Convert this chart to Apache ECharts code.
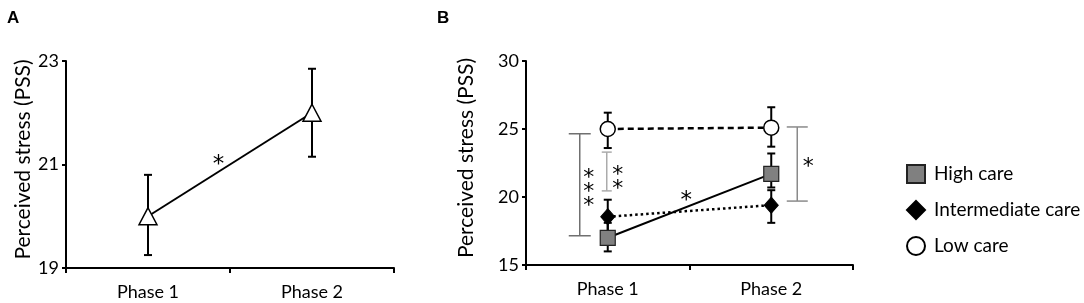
<!DOCTYPE html>
<html>
<head>
<meta charset="utf-8">
<script src="https://cdn.jsdelivr.net/npm/echarts@6/dist/echarts.min.js"></script>
<style>
  html, body { margin: 0; padding: 0; background: #fff; }
  #chart { width: 1084px; height: 303px; }
</style>
</head>
<body>
<div id="chart"></div>
<script>
// Panel A - whole sample, mean with error bar ends
var phases = ['Phase 1', 'Phase 2'];
var meanA = [20.0, 22.0];
var lowA = [19.25, 21.15];
var highA = [20.8, 22.85];

// Panel B - by care group
var groupNames = ['High care', 'Intermediate care', 'Low care'];
var meanHigh = [17.0, 21.7];
var lowHigh = [16.0, 20.7];
var highHigh = [18.1, 23.2];
var meanInter = [18.55, 19.4];
var lowInter = [17.4, 18.1];
var highInter = [19.8, 20.5];
var meanLow = [25.0, 25.1];
var lowLow = [23.6, 23.7];
var highLow = [26.2, 26.6];

// tick values
var ticksA = [19, 21, 23];
var ticksB = [15, 20, 25, 30];

// significance brackets in panel B
var bracketPhase = [0, 0, 1];
var bracketFrom = [17.15, 20.45, 19.7];
var bracketTo = [24.65, 23.3, 25.15];
var bracketStars = ['***', '**', '*'];

// stars over the change lines: fraction of the way from phase 1 to phase 2, value
var changeAt = [0.43, 0.48];
var changeValue = [21.1, 20.15];

var FONT = 'Lato, "Open Sans", sans-serif';
var STAR_FONT = '"DejaVu Sans", sans-serif';

function zip3(a, b, c) {
    return a.map(function (v, i) { return [i, b[i], c[i]]; });
}

// error bar: vertical line with caps
function renderErr(params, api) {
    var lo = api.coord([api.value(0), api.value(1)]);
    var hi = api.coord([api.value(0), api.value(2)]);
    var w = 4;
    var st = { stroke: '#000', lineWidth: 2 };
    return {
        type: 'group',
        children: [
            { type: 'line', shape: { x1: lo[0], y1: lo[1], x2: hi[0], y2: hi[1] }, style: st },
            { type: 'line', shape: { x1: lo[0] - w, y1: lo[1], x2: lo[0] + w, y2: lo[1] }, style: st },
            { type: 'line', shape: { x1: hi[0] - w, y1: hi[1], x2: hi[0] + w, y2: hi[1] }, style: st }
        ]
    };
}

// bracket look: offset from phase centre, cap half width, colour, star offset
var bracketDx = [-28, -1, 26];
var bracketCap = [11, 5, 10.5];
var bracketColor = ['#707070', '#ababab', '#8a8a8a'];
var starDx = [9, 11, 11];
var starDy = [2, 5, -3];

function renderBracket(params, api) {
    var i = params.dataIndex;
    var x = api.coord([api.value(0), 0])[0] + bracketDx[i];
    var y1 = api.coord([api.value(0), api.value(1)])[1];
    var y2 = api.coord([api.value(0), api.value(2)])[1];
    var c = bracketCap[i];
    var st = { stroke: bracketColor[i], lineWidth: 1.5 };
    var stars = bracketStars[i].split('').join('\n');
    return {
        type: 'group',
        children: [
            { type: 'line', shape: { x1: x, y1: y1, x2: x, y2: y2 }, style: st },
            { type: 'line', shape: { x1: x - c, y1: y1, x2: x + c, y2: y1 }, style: st },
            { type: 'line', shape: { x1: x - c, y1: y2, x2: x + c, y2: y2 }, style: st },
            {
                type: 'text',
                x: x + starDx[i],
                y: (y1 + y2) / 2 + starDy[i] + 6,
                style: {
                    text: stars, fontSize: 22, fontFamily: STAR_FONT, fill: '#000',
                    align: 'center', verticalAlign: 'middle', lineHeight: 14
                }
            }
        ]
    };
}

function renderChangeStar(params, api) {
    var t = api.value(0);
    var p0 = api.coord([0, api.value(1)]);
    var p1 = api.coord([1, api.value(1)]);
    return {
        type: 'text',
        x: p0[0] + (p1[0] - p0[0]) * t,
        y: p0[1] + 6,
        style: {
            text: '*', fontSize: 23, fontFamily: STAR_FONT, fill: '#000',
            align: 'center', verticalAlign: 'middle'
        }
    };
}

function xAxisFor(gi) {
    return {
        type: 'category', gridIndex: gi, data: phases, boundaryGap: true,
        axisLine: { show: true, lineStyle: { color: '#000', width: 2 } },
        axisTick: { show: true, length: 5, lineStyle: { color: '#000', width: 2 } },
        axisLabel: { color: '#000', fontSize: 18, fontFamily: FONT, margin: 15 },
        splitLine: { show: false }
    };
}

function yAxisFor(gi, ticks, gap) {
    return {
        type: 'value', gridIndex: gi,
        min: ticks[0], max: ticks[ticks.length - 1], interval: ticks[1] - ticks[0],
        name: 'Perceived stress (PSS)', nameLocation: 'middle', nameGap: gap,
        nameTextStyle: { color: '#000', fontSize: 21, fontFamily: FONT, padding: [0, 0, 0, 10] },
        axisLine: { show: true, lineStyle: { color: '#000', width: 2 } },
        axisTick: { show: true, length: 4, lineStyle: { color: '#000', width: 2 } },
        axisLabel: { color: '#000', fontSize: 18, fontFamily: FONT, margin: 7 },
        splitLine: { show: false }
    };
}

var chart = echarts.init(document.getElementById('chart'), null, { renderer: 'canvas' });

var option = {
    animation: false,
    backgroundColor: '#fff',
    textStyle: { fontFamily: FONT },
    grid: [
        { left: 66, top: 61, width: 328, height: 207 },
        { left: 526, top: 61, width: 327, height: 204 }
    ],
    xAxis: [xAxisFor(0), xAxisFor(1)],
    yAxis: [yAxisFor(0, ticksA, 31), yAxisFor(1, ticksB, 49)],
    legend: {
        orient: 'vertical', left: 901, top: 159,
        itemWidth: 18, itemHeight: 18, itemGap: 16,
        selectedMode: false,
        textStyle: { color: '#000', fontSize: 19, lineHeight: 18, fontFamily: FONT, padding: [0, 0, 0, 4] },
        data: [
            { name: 'High care', icon: 'rect' },
            { name: 'Intermediate care', icon: 'diamond' },
            { name: 'Low care', icon: 'circle' }
        ]
    },
    graphic: [
        { type: 'text', left: 7, top: 10, style: { text: 'A', fontSize: 17, fontWeight: 'bold', fontFamily: 'Liberation Sans, Arial, sans-serif', fill: '#000' } },
        { type: 'text', left: 437, top: 10, style: { text: 'B', fontSize: 17, fontWeight: 'bold', fontFamily: 'Liberation Sans, Arial, sans-serif', fill: '#000' } }
    ],
    series: [
        // panel A
        { type: 'custom', name: 'errA', xAxisIndex: 0, yAxisIndex: 0, z: 1, silent: true,
          renderItem: renderErr, data: zip3(phases, lowA, highA) },
        { type: 'line', name: 'All', xAxisIndex: 0, yAxisIndex: 0, z: 3, silent: true,
          data: meanA, symbol: 'triangle', symbolSize: [18, 17],
          lineStyle: { color: '#000', width: 2 },
          itemStyle: { color: '#fff', borderColor: '#000', borderWidth: 1.5 } },
        { type: 'custom', name: 'starA', xAxisIndex: 0, yAxisIndex: 0, z: 4, silent: true,
          renderItem: renderChangeStar, data: [[changeAt[0], changeValue[0]]] },

        // panel B error bars
        { type: 'custom', name: 'errLow', xAxisIndex: 1, yAxisIndex: 1, z: 1, silent: true,
          renderItem: renderErr, data: zip3(phases, lowLow, highLow) },
        { type: 'custom', name: 'errHigh', xAxisIndex: 1, yAxisIndex: 1, z: 1, silent: true,
          renderItem: renderErr, data: zip3(phases, lowHigh, highHigh) },
        { type: 'custom', name: 'errInter', xAxisIndex: 1, yAxisIndex: 1, z: 1, silent: true,
          renderItem: renderErr, data: zip3(phases, lowInter, highInter) },

        // panel B means
        { type: 'line', name: groupNames[2], xAxisIndex: 1, yAxisIndex: 1, z: 3, silent: true,
          data: meanLow, symbol: 'circle', symbolSize: 15,
          lineStyle: { color: '#000', width: 2.5, type: [6, 4] },
          itemStyle: { color: '#fff', borderColor: '#000', borderWidth: 1.5 } },
        { type: 'line', name: groupNames[1], xAxisIndex: 1, yAxisIndex: 1, z: 3, silent: true,
          data: meanInter, symbol: 'diamond', symbolSize: [14, 16],
          lineStyle: { color: '#000', width: 2.5, type: [2.5, 3] },
          itemStyle: { color: '#000', borderColor: '#000', borderWidth: 1 } },
        { type: 'line', name: groupNames[0], xAxisIndex: 1, yAxisIndex: 1, z: 4, silent: true,
          data: meanHigh, symbol: 'rect', symbolSize: 15,
          lineStyle: { color: '#000', width: 2 },
          itemStyle: { color: '#808080', borderColor: '#222', borderWidth: 1.2 } },

        // significance brackets and stars
        { type: 'custom', name: 'brackets', xAxisIndex: 1, yAxisIndex: 1, z: 2, silent: true,
          renderItem: renderBracket,
          data: bracketPhase.map(function (p, i) { return [p, bracketFrom[i], bracketTo[i]]; }) },
        { type: 'custom', name: 'starB', xAxisIndex: 1, yAxisIndex: 1, z: 4, silent: true,
          renderItem: renderChangeStar, data: [[changeAt[1], changeValue[1]]] }
    ]
};

chart.setOption(option);
</script>
</body>
</html>
